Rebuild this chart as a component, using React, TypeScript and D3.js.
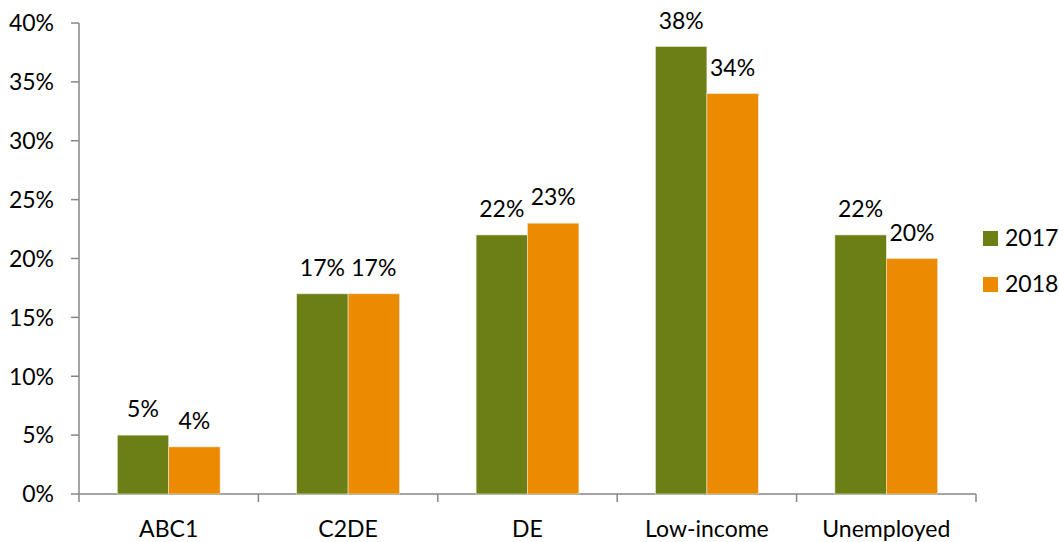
import React from "react";
import * as d3 from "d3";

const categories = ["ABC1", "C2DE", "DE", "Low-income", "Unemployed"];
const seriesNames = ["2017", "2018"];
const values2017 = [5, 17, 22, 38, 22];
const values2018 = [4, 17, 23, 34, 20];
const yTicks = [0, 5, 10, 15, 20, 25, 30, 35, 40];
const colors = ["#6B7F15", "#EC8A00"];

const W = 1059, H = 542;
const left = 79, right = 976, top = 23, bottom = 494;
const font = "Lato, 'Open Sans', sans-serif";
const fs = 23;

export default function App() {
  const series = [values2017, values2018];
  const x = d3.scaleBand<string>().domain(categories).range([left, right]).padding(0);
  const bw = x.bandwidth();
  const gap = bw * 0.2135;
  const xi = d3.scaleBand<string>().domain(seriesNames).range([gap, bw - gap]).padding(0);
  const y = d3.scaleLinear().domain([0, 40]).range([bottom, top]);
  const axisColor = "#868686";
  return (
    <svg width={W} height={H} style={{ position: "absolute", left: 0, top: 0 }}>
      <rect width={W} height={H} fill="#fff" />
      <line x1={left} x2={left} y1={top} y2={bottom} stroke={axisColor} strokeWidth={1.5} />
      {yTicks.map((t) => (
        <g key={t}>
          <line x1={left - 8} x2={left} y1={y(t)} y2={y(t)} stroke={axisColor} strokeWidth={1.5} />
          <text x={54} y={y(t)} dy="0.36em" textAnchor="end" fontFamily={font} fontSize={fs} fill="#000">
            {t}%
          </text>
        </g>
      ))}
      <line x1={left} x2={right} y1={bottom} y2={bottom} stroke={axisColor} strokeWidth={1.5} />
      {categories.map((c) => (
        <line key={"t" + c} x1={x(c)!} x2={x(c)!} y1={bottom} y2={bottom + 8} stroke={axisColor} strokeWidth={1.5} />
      ))}
      <line x1={right} x2={right} y1={bottom} y2={bottom + 8} stroke={axisColor} strokeWidth={1.5} />
      {categories.map((c) => (
        <text key={"l" + c} x={x(c)! + bw / 2} y={537} textAnchor="middle" fontFamily={font} fontSize={fs} fill="#000">
          {c}
        </text>
      ))}
      {categories.map((c, i) => (
        <g key={"b" + c}>
          {series.map((s, j) => {
            const bx = x(c)! + xi(seriesNames[j])!;
            const v = s[i];
            return (
              <g key={j}>
                <rect x={bx} y={y(v)} width={xi.bandwidth()} height={bottom - y(v)} fill={colors[j]} stroke="#e8e8d8" strokeWidth={0.6} />
                <text x={bx + xi.bandwidth() / 2} y={y(v) - 18} textAnchor="middle" fontFamily={font} fontSize={fs} fill="#000">
                  {v}%
                </text>
              </g>
            );
          })}
        </g>
      ))}
      {seriesNames.map((s, j) => (
        <g key={"lg" + s}>
          <rect x={983} y={231 + j * 46} width={15} height={15} fill={colors[j]} />
          <text x={1005} y={246 + j * 46} fontFamily={font} fontSize={fs} fill="#000">
            {s}
          </text>
        </g>
      ))}
    </svg>
  );
}
